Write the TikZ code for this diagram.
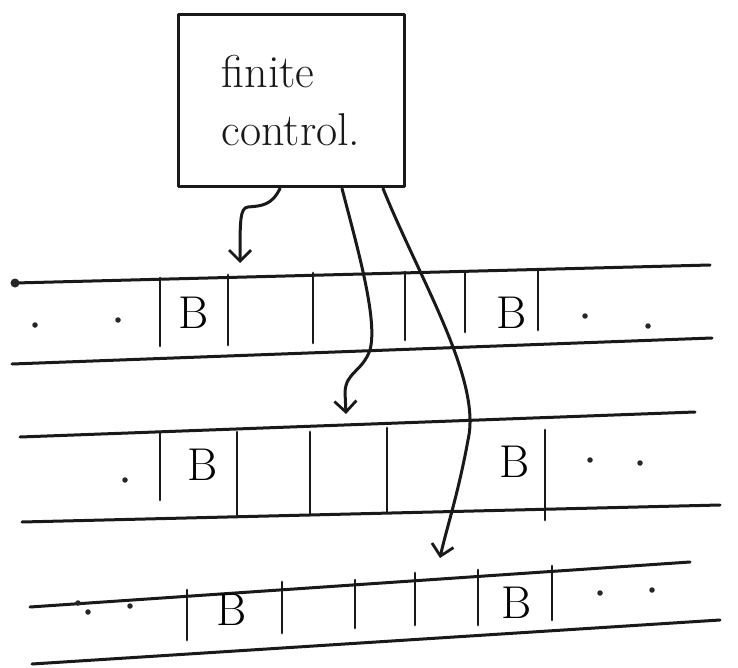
\documentclass[tikz,border=0pt]{standalone}
\usetikzlibrary{arrows.meta}
\begin{document}
\begin{tikzpicture}[x=1pt,y=-1pt,
  ink/.style={line width=3pt,line cap=round,line join=round,black!90},
  sepline/.style={line width=2.8pt,line cap=round,black!90},
  sym/.style={font=\fontsize{46}{46}\selectfont,inner sep=0pt},
  dotmark/.style={circle,fill=black!85,inner sep=0pt,minimum size=5.5pt},
  headarrow/.style={ink,-{Straight Barb[length=11pt,width=22pt,line width=2.8pt]}}]
\useasboundingbox (0,0) rectangle (738,668);
\fill[white] (0,0) rectangle (738,668);

% finite control box
\node[draw,ink,minimum width=226pt,minimum height=172pt,align=left,
      font=\fontsize{46}{58}\selectfont] (fc) at (291,101) {finite\\control.};

% tape 1
\draw[ink] (15,283) -- (710,265);
\draw[ink] (12,364) -- (712,338);
\node[dotmark,minimum size=9pt] (t1end) at (15,283) {};
\foreach \x/\a/\b in {160/278/346, 228/275/345, 313/273/343, 405/272/340, 465/272/332, 538/270/330}
  \draw[sepline] (\x,\a) -- (\x,\b);
\node[sym] (b1a) at (194,313) {B};
\node[sym] (b1b) at (512,313) {B};
\foreach \x/\y in {35/325, 118/320, 585/316, 648/326}
  \node[dotmark] at (\x,\y) {};

% tape 2
\draw[ink] (20,437) -- (695,412);
\draw[ink] (22,522) -- (720,505);
\foreach \x/\a/\b in {160/433/500, 237/432/515, 310/432/515, 387/428/512, 545/430/520}
  \draw[sepline] (\x,\a) -- (\x,\b);
\node[sym] (b2a) at (203,465) {B};
\node[sym] (b2b) at (515,462) {B};
\foreach \x/\y in {125/480, 590/460, 640/463}
  \node[dotmark] at (\x,\y) {};

% tape 3
\draw[ink] (30,607) -- (690,562);
\draw[ink] (32,664) -- (720,620);
\foreach \x/\a/\b in {187/590/640, 282/582/633, 355/580/628, 415/573/625, 478/570/625, 552/566/620}
  \draw[sepline] (\x,\a) -- (\x,\b);
\node[sym] (b3a) at (232,610) {B};
\node[sym] (b3b) at (517,603) {B};
\foreach \x/\y in {78/603, 88/612, 130/606, 600/593, 652/590}
  \node[dotmark] at (\x,\y) {};

% read/write heads
\coordinate (h1) at (240,263);
\coordinate (h2) at (346,414);
\coordinate (h3) at (440,558);
\draw[headarrow] ([xshift=-11pt]fc.south) .. controls (272,205) and (262,206) .. (248,207)
  .. controls (240,208) and (240,220) .. (h1);
\draw[headarrow] ([xshift=51pt]fc.south) .. controls (358,250) and (378,320) .. (370,350)
  .. controls (362,372) and (346,372) .. (345,392) -- (h2);
\draw[headarrow] ([xshift=92pt]fc.south) .. controls (420,280) and (482,380) .. (468,440)
  .. controls (458,495) and (446,530) .. (h3);
\end{tikzpicture}
\end{document}
